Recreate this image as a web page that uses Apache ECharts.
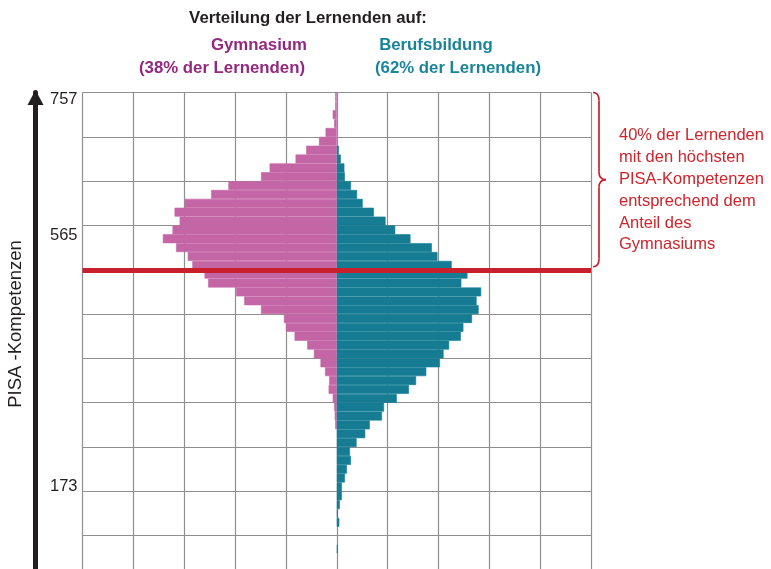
<!DOCTYPE html>
<html>
<head>
<meta charset="utf-8">
<script src="https://cdn.jsdelivr.net/npm/echarts@6.0.0/dist/echarts.min.js"></script>
<style>
    html, body { margin: 0; padding: 0; background: #fff; }
    #container { width: 771px; height: 569px; }
</style>
</head>
<body>
<div id="container"></div>
<script>
// one row per PISA bin, from the highest scores (top) down; 5 bins per grid row
// bar lengths in grid columns
const gymnasium = [0.03, 0.03, 0.08, 0.05, 0.22, 0.35, 0.60, 0.81, 1.32, 1.49,
    2.13, 2.47, 2.99, 3.19, 3.09, 3.23, 3.42, 3.16, 2.93, 2.84,
    2.60, 2.53, 1.98, 1.82, 1.49, 1.04, 1.00, 0.83, 0.58, 0.45,
    0.32, 0.23, 0.15, 0.16, 0.08, 0.05, 0.04, 0.03, 0, 0,
    0, 0, 0, 0, 0, 0, 0, 0, 0, 0,
    0, 0, 0, 0, 0];
const berufsbildung = [0, 0, 0, 0, 0, 0, 0.04, 0.08, 0.15, 0.16,
    0.28, 0.40, 0.51, 0.73, 0.96, 1.15, 1.45, 1.87, 1.98, 2.26,
    2.57, 2.45, 2.84, 2.75, 2.79, 2.66, 2.49, 2.44, 2.21, 2.10,
    2.03, 1.76, 1.56, 1.42, 1.18, 0.93, 0.89, 0.65, 0.56, 0.39,
    0.26, 0.28, 0.20, 0.16, 0.10, 0.10, 0.06, 0.02, 0.05, 0,
    0, 0.02, 0, 0, 0];
const bins = gymnasium.map((v, i) => String(i));
// PISA score labels and where they sit (in bins from the top)
const scoreLabels = ['757', '565', '173'];
const scoreLabelPos = [0.8, 16.1, 44.5];
// the top 40% (same share as Gymnasium) lie above this bin
const cutoffBin = 20;
const columns = 5;

const noteLines = ['40% der Lernenden', 'mit den höchsten', 'PISA-Kompetenzen',
    'entsprechend dem', 'Anteil des', 'Gymnasiums'];

const pink = '#c466a6';
const teal = '#157c93';
const red = '#c8202c';

function draw_chart() {
    let dom = document.getElementById("container");
    let myChart = echarts.init(dom);
    const nBins = bins.length;
    const font = '"Liberation Sans", Arial, sans-serif';

    let option = {
        animation: false,
        grid: {
            left: 82.5,
            right: 180,
            top: 92.5,
            height: 487.5,
            containLabel: false,
            outerBoundsMode: 'none'
        },
        xAxis: {
            type: 'value',
            min: -columns,
            max: columns,
            interval: 1,
            axisLine: {show: false},
            axisTick: {show: false},
            axisLabel: {show: false},
            splitLine: {lineStyle: {color: '#8f8f8f', width: 1.2}}
        },
        yAxis: [
            {
                type: 'category',
                data: bins,
                inverse: true,
                axisLine: {show: false},
                axisTick: {show: false},
                axisLabel: {show: false},
                splitLine: {
                    show: true,
                    interval: 4,
                    lineStyle: {color: '#8f8f8f', width: 1.2}
                }
            },
            {
                // thick arrow on the left
                type: 'value',
                min: 0,
                max: nBins,
                position: 'left',
                offset: 47,
                axisLine: {
                    show: true,
                    symbol: ['none', 'triangle'],
                    symbolSize: [16, 15],
                    symbolOffset: [0, -5],
                    lineStyle: {color: '#231f20', width: 5}
                },
                axisTick: {show: false},
                axisLabel: {show: false},
                splitLine: {show: false}
            },
            {
                // score labels, counted in bins from the top
                type: 'value',
                min: 0,
                max: nBins,
                inverse: true,
                position: 'left',
                axisLine: {show: false},
                axisTick: {show: false},
                splitLine: {show: false},
                axisLabel: {
                    customValues: scoreLabelPos,
                    margin: 5,
                    fontSize: 16.5,
                    color: '#231f20',
                    fontFamily: font,
                    formatter: function (value) {
                        const i = scoreLabelPos.indexOf(value);
                        return i >= 0 ? scoreLabels[i] : '';
                    }
                }
            }
        ],
        series: [
            {
                name: 'Gymnasium',
                type: 'bar',
                barGap: '-100%',
                barCategoryGap: 0,
                itemStyle: {color: pink, borderColor: pink, borderWidth: 0.6},
                data: gymnasium.map(v => (v ? -v : '-'))
            },
            {
                name: 'Berufsbildung',
                type: 'bar',
                barGap: '-100%',
                barCategoryGap: 0,
                itemStyle: {color: teal, borderColor: teal, borderWidth: 0.6},
                data: berufsbildung.map(v => (v ? v : '-'))
            },
            {
                name: 'cutoff',
                type: 'line',
                yAxisIndex: 1,
                data: [],
                markLine: {
                    silent: true,
                    symbol: 'none',
                    label: {show: false},
                    lineStyle: {color: red, width: 5, type: 'solid'},
                    data: [{yAxis: nBins - cutoffBin}]
                }
            }
        ]
    };

    myChart.setOption(option, true);

    // brace and texts, placed from the chart's own scales
    const xRight = myChart.convertToPixel({xAxisIndex: 0}, columns);
    const yTop = myChart.convertToPixel({yAxisIndex: 1}, nBins);
    const yCut = myChart.convertToPixel({yAxisIndex: 1}, nBins - cutoffBin) - 3;
    const yMid = (yTop + yCut) / 2;
    const bx = xRight + 2;
    const braceStyle = {fill: 'none', stroke: red, lineWidth: 1.7};
    function curve(x1, y1, cx, cy, x2, y2) {
        return {type: 'bezierCurve', shape: {x1: x1, y1: y1, cpx1: cx, cpy1: cy, x2: x2, y2: y2}, style: braceStyle};
    }
    function seg(x1, y1, x2, y2) {
        return {type: 'line', shape: {x1: x1, y1: y1, x2: x2, y2: y2}, style: braceStyle};
    }

    function label(text, x, y, color, size, weight) {
        return {
            type: 'text',
            x: x,
            y: y,
            style: {
                text: text,
                fill: color,
                font: (weight || 'normal') + ' ' + size + 'px ' + font,
                align: 'center',
                verticalAlign: 'middle'
            }
        };
    }

    myChart.setOption({
        graphic: [
            label('Verteilung der Lernenden auf:', 308, 18, '#231f20', 16.8, 'bold'),
            label('Gymnasium', 259, 45, '#93297f', 16.8, 'bold'),
            label('(38% der Lernenden)', 222, 68, '#93297f', 16.8, 'bold'),
            label('Berufsbildung', 436, 45, '#1a8499', 16.8, 'bold'),
            label('(62% der Lernenden)', 458, 68, '#1a8499', 16.8, 'bold'),
            {
                type: 'text',
                x: 16,
                y: 324,
                rotation: Math.PI / 2,
                style: {
                    text: 'PISA -Kompetenzen',
                    fill: '#231f20',
                    font: '18.5px ' + font,
                    align: 'center',
                    verticalAlign: 'middle'
                }
            },
            {
                type: 'group',
                children: [
                    curve(bx, yTop, bx + 6, yTop, bx + 6, yTop + 8),
                    seg(bx + 6, yTop + 8, bx + 6, yMid - 8),
                    curve(bx + 6, yMid - 8, bx + 6, yMid, bx + 13, yMid),
                    curve(bx + 13, yMid, bx + 6, yMid, bx + 6, yMid + 8),
                    seg(bx + 6, yMid + 8, bx + 6, yCut - 8),
                    curve(bx + 6, yCut - 8, bx + 6, yCut, bx, yCut)
                ]
            },
            {
                type: 'text',
                x: bx + 26,
                y: yTop + 32,
                style: {
                    text: noteLines.join('\n'),
                    fill: '#d2232a',
                    font: '16.5px ' + font,
                    lineHeight: 21.9,
                    align: 'left',
                    verticalAlign: 'top'
                }
            }
        ]
    });
}

draw_chart();
</script>
</body>
</html>
